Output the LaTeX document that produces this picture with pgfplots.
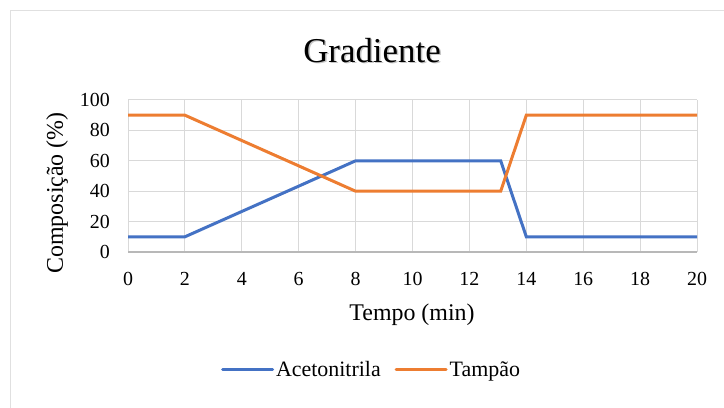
\documentclass[border=0pt]{standalone}
\usepackage{pgfplots}
\pgfplotsset{compat=1.18}
\usepackage{fontspec}
\setmainfont{Liberation Serif}
\definecolor{cblue}{HTML}{4472C4}
\definecolor{corange}{HTML}{ED7D31}
\begin{document}
\begin{tikzpicture}[x=1bp,y=1bp]
\useasboundingbox (0,0) rectangle (724,407);
\draw[color=black!12, line width=1bp] (10.5,-5) -- (10.5,396.5) -- (730,396.5);
\node[anchor=base, font=\fontsize{35}{40}\selectfont, text=black!45, opacity=0.5] at (373.5,343.5) {Gradiente};
\node[anchor=base, font=\fontsize{35}{40}\selectfont] at (372,345) {Gradiente};
\node[rotate=90, font=\fontsize{24}{28}\selectfont] at (57,214) {Composição (\%)};
\node[font=\fontsize{24}{28}\selectfont] at (412,92) {Tempo (min)};
\begin{axis}[at={(128bp,155bp)}, anchor=south west, scale only axis, width=569bp, height=152bp,
 xmin=0,xmax=20,ymin=0,ymax=100, xtick={0,2,...,20}, ytick={0,20,...,100},
 grid=major, grid style={color=black!15, line width=1bp},
 axis line style={draw=none}, major tick length=0pt,
 tick label style={font=\rmfamily\fontsize{20}{24}\selectfont}, /pgf/number format/assume math mode=true,
 xticklabel style={anchor=north, inner sep=0pt, yshift=-20bp},
 yticklabel style={anchor=east, inner sep=0pt, xshift=-18bp},
 legend columns=2,
 legend style={draw=none, fill=none, at={(0.428,-0.776)}, anchor=center, font=\fontsize{22}{26}\selectfont, /tikz/every even column/.append style={column sep=12bp}},
 legend image code/.code={\draw[line width=3bp, line cap=round] (0bp,0bp) -- (50bp,0bp);},
 legend image post style={line width=3bp},
 clip=false]
\draw[black!28, line width=1.3bp] (rel axis cs:0,0) -- (rel axis cs:1,0);
\addplot[cblue, line width=3bp, mark=none] coordinates {(0,10) (2,10) (8,60) (13.1,60) (14,10) (20,10)};
\addlegendentry{Acetonitrila}
\addplot[corange, line width=3bp, mark=none] coordinates {(0,90) (2,90) (8,40) (13.1,40) (14,90) (20,90)};
\addlegendentry{Tampão}
\end{axis}
\end{tikzpicture}
\end{document}
